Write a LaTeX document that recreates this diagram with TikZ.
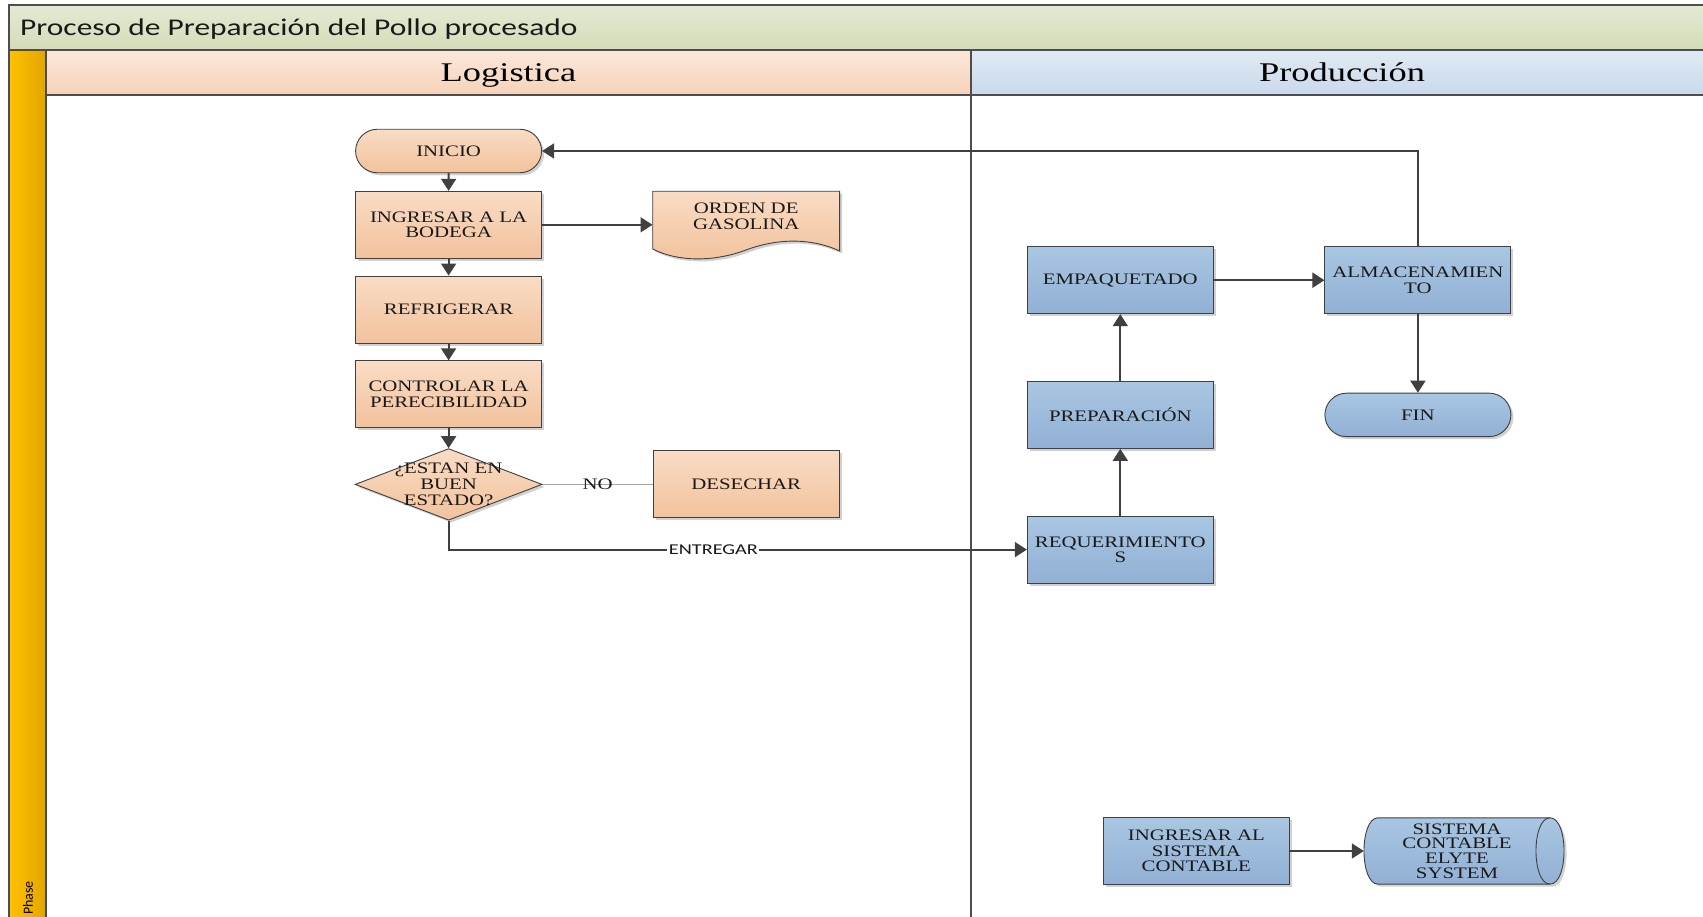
\documentclass[tikz,border=0pt]{standalone}
\usepackage{fontspec}
\usetikzlibrary{shapes.geometric,shapes.misc,arrows.meta,shadows}
% typefaces: wide serif for shapes and lanes, wide sans for the title bar
\newfontfamily\boxfont[FakeStretch=1.3]{Liberation Serif}
\newfontfamily\headfont[FakeStretch=1.35]{Liberation Serif}
\newfontfamily\titlefont[FakeStretch=1.31]{Carlito}
\newfontfamily\labelfont[FakeStretch=1.35]{Carlito}
\newfontfamily\phasefont{Carlito}

\definecolor{edge}{HTML}{404040}
\definecolor{frame}{HTML}{4D4D4D}
\definecolor{peachT}{HTML}{F9DCC5}
\definecolor{peachB}{HTML}{F2C29C}
\definecolor{blueT}{HTML}{A9C6E2}
\definecolor{blueB}{HTML}{91B0D4}
\definecolor{titleT}{HTML}{E3EAD3}
\definecolor{titleB}{HTML}{D3DCB8}
\definecolor{logT}{HTML}{FBE8DB}
\definecolor{logB}{HTML}{F6D2BA}
\definecolor{prodT}{HTML}{E0EAF4}
\definecolor{prodB}{HTML}{C9DAEB}
\definecolor{phaseL}{HTML}{FFC000}
\definecolor{phaseR}{HTML}{E3A600}
\definecolor{noline}{HTML}{A6A6A6}

\tikzset{
  shade box/.style={drop shadow={shadow xshift=2.5pt, shadow yshift=-2.5pt, opacity=0.18, fill=black}},
  boxtext/.style={inner sep=0pt, align=center, text=black!90,
    font=\boxfont\fontsize{16}{15.6}\selectfont},
  box/.style={boxtext, draw=edge, line width=0.9pt, shade box,
    minimum width=186pt, minimum height=67pt},
  orange/.style={top color=peachT, bottom color=peachB},
  blue/.style={top color=blueT, bottom color=blueB},
  term/.style={box, rounded rectangle, minimum height=43.5pt},
  decision/.style={diamond, draw=edge, line width=0.9pt, shade box, inner sep=0pt,
    minimum width=187pt, minimum height=71.6pt},
  lanehead/.style={draw=frame, line width=1.4pt, minimum height=45pt, inner sep=0pt},
  headtext/.style={anchor=base, inner sep=0pt, font=\headfont\fontsize{27}{30}\selectfont},
  flow/.style={draw=edge, line width=1.8pt, -{Triangle[length=12pt,width=15pt]}},
  plain/.style={draw=noline, line width=1.2pt},
}

\begin{document}
\begin{tikzpicture}[x=1pt, y=-1pt]
\fill[white] (0,0) rectangle (1703,916);
\useasboundingbox (0,0) rectangle (1703,916);
\clip (0,0) rectangle (1703,916);

% pool title bar
\path[draw=frame, line width=1.4pt, top color=titleT, bottom color=titleB] (9,5) rectangle (1730,50);
\node[anchor=base west, inner sep=0pt, font=\titlefont\fontsize{24}{28}\selectfont, text=black!90]
  (title) at (20,35.5) {Proceso de Preparación del Pollo procesado};

% phase band on the left
\path[draw=frame, line width=1.4pt, left color=phaseL, right color=phaseR] (9,50) rectangle (46,940);
\node[rotate=90, anchor=west, inner sep=0pt, font=\phasefont\fontsize{14}{16}\selectfont]
  (phase) at (28,915) {Phase};

% lane headers and divider
\node[lanehead, minimum width=925pt, top color=logT, bottom color=logB] (hlog) at (508.5,72.5) {};
\node[lanehead, minimum width=759pt, top color=prodT, bottom color=prodB] (hprod) at (1350.5,72.5) {};
\node[headtext] (hlogtxt) at (508.5,81.5) {Logistica};
\node[headtext] (hprodtxt) at (1342,81.5) {Producción};
\draw[frame, line width=2.4pt] (971,95) -- (971,940);

% Logistica lane
\node[term, orange] (inicio) at (448.6,151) {INICIO};
\node[box, orange] (bodega) at (448.6,224.8) {INGRESAR A LA\\BODEGA};
\node[box, orange] (refri) at (448.6,309.5) {REFRIGERAR};
\node[box, orange] (control) at (448.6,394.3) {CONTROLAR LA\\PERECIBILIDAD};
\node[decision, orange] (estado) at (448.6,484.4) {};
\node[boxtext] (estadotxt) at (448.6,484.4) {¿ESTAN EN\\BUEN\\ESTADO?};
\node[box, orange] (desechar) at (746.2,484.4) {DESECHAR};

% document shape
\path[draw=edge, line width=0.9pt, orange, shade box]
  (652.7,191.2) -- (839.6,191.2) -- (839.6,251)
  .. controls (812,238) and (778,238) .. (746,250)
  .. controls (714,262) and (678,262) .. (652.7,249) -- cycle;
\node[minimum width=187pt, minimum height=67pt, inner sep=0pt] (orden) at (746.2,224.8) {};
\node[boxtext] (ordentxt) at (746.2,216) {ORDEN DE\\GASOLINA};

% Produccion lane
\node[box, blue] (emp) at (1120.3,280.2) {EMPAQUETADO};
\node[box, blue] (alm) at (1417.9,280.2) {ALMACENAMIEN\\TO};
\node[box, blue] (prep) at (1120.3,414.9) {PREPARACIÓN};
\node[term, blue] (fin) at (1417.9,414.9) {FIN};
\node[box, blue] (req) at (1120.3,549.6) {REQUERIMIENTO\\S};
\node[box, blue] (ingal) at (1196.3,851) {INGRESAR AL\\SISTEMA\\CONTABLE};

% stored data shape
\path[draw=edge, line width=0.9pt, blue, shade box]
  (1378,817.8) -- (1550,817.8)
  .. controls (1568.7,817.8) and (1568.7,884.1) .. (1550,884.1)
  -- (1378,884.1)
  .. controls (1359.3,884.1) and (1359.3,817.8) .. (1378,817.8) -- cycle;
\draw[edge, line width=0.9pt]
  (1550,817.8) .. controls (1531.3,817.8) and (1531.3,884.1) .. (1550,884.1);
\node[minimum width=200pt, minimum height=66.3pt, inner sep=0pt] (cyl) at (1464,851) {};
\node[boxtext, font=\boxfont\fontsize{16}{14.6}\selectfont] (cyltxt) at (1457,851)
  {SISTEMA\\CONTABLE\\ELYTE\\SYSTEM};

% connectors
\draw[flow] (inicio) -- (bodega);
\draw[flow] (bodega) -- (refri);
\draw[flow] (refri) -- (control);
\draw[flow] (control) -- (estado);
\draw[flow] (bodega.east) -- (orden.west);
\draw[plain] (estado.east) -- node[boxtext] {NO} (desechar.west);
\draw[flow] (estado.south) |- node[pos=0.729, fill=white, inner sep=1.5pt,
  font=\labelfont\fontsize{15}{17}\selectfont, text=black!90] {ENTREGAR} (req.west);
\draw[flow] (req) -- (prep);
\draw[flow] (prep) -- (emp);
\draw[flow] (emp) -- (alm);
\draw[flow] (alm) -- (fin);
\draw[flow] (alm.north) |- (inicio.east);
\draw[flow] (ingal) -- (cyl.west);
\end{tikzpicture}
\end{document}
